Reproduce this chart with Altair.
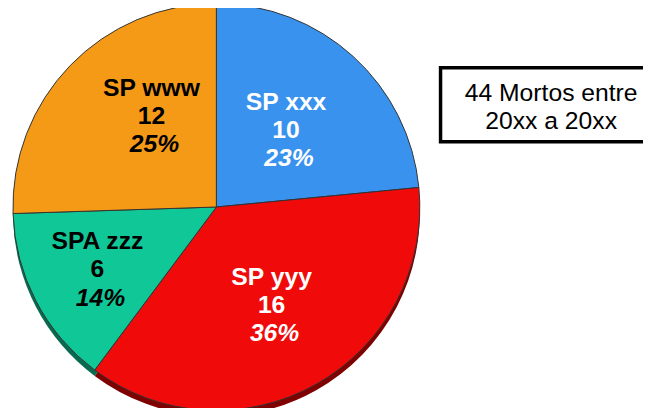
import altair as alt
import pandas as pd

# ---- data ----
categories = ["SP xxx", "SP yyy", "SPA zzz", "SP www"]
counts = [10, 16, 6, 12]
percents = [23, 36, 14, 25]
pct_labels = ["23%", "36%", "14%", "25%"]
box_lines = ["44 Mortos entre", "20xx a 20xx"]

df = pd.DataFrame({
    "cat": categories,
    "count": counts,
    "pct": percents,
    "pct_label": pct_labels,
    "order": list(range(len(categories))),
})
df["count_label"] = df["count"].astype(str)

# ---- styles ----
fill_colors = ["#3a92ef", "#f00a0a", "#10c897", "#f59a16"]
shadow_colors = ["#1f4f8c", "#7e0000", "#0a6a50", "#8a5508"]
FONT = "Liberation Sans"
CX, CY, R = 211, 199, 206
theta_scale = alt.Scale(domain=[0, sum(percents)])

# per-slice label placement (radius along the slice's mid-angle, plus nudge)
label_style = {
    "SP xxx": dict(radius=105, dx=0, dy=0, color="white"),
    "SP yyy": dict(radius=114, dx=0, dy=0, color="white"),
    "SPA zzz": dict(radius=137, dx=1, dy=0, color="black"),
    "SP www": dict(radius=111, dx=14, dy=-15, color="black"),
}

base = alt.Chart(df).encode(
    theta=alt.Theta("pct:Q", stack=True, scale=theta_scale),
    order=alt.Order("order:Q"),
)

shadow = base.mark_arc(radius=R, x=CX, y=CY + 6).encode(
    color=alt.Color("cat:N", scale=alt.Scale(domain=categories, range=shadow_colors), legend=None)
)

pie = base.mark_arc(radius=R, x=CX, y=CY, stroke="#333333", strokeWidth=1).encode(
    fill=alt.Fill("cat:N", scale=alt.Scale(domain=categories, range=fill_colors), legend=None)
)

text_base = alt.Chart(df).transform_window(
    cum="sum(pct)", sort=[alt.SortField("order")], frame=[None, 0]
).transform_calculate(mid="datum.cum - datum.pct / 2")

layers = [shadow, pie]
for cat, st in label_style.items():
    sub = text_base.transform_filter(alt.datum.cat == cat).encode(
        theta=alt.Theta("mid:Q", stack=None, scale=theta_scale)
    )
    common = dict(x=CX, y=CY, radius=st["radius"], font=FONT, fontSize=25,
                  fontWeight="bold", align="center", baseline="middle",
                  color=st["color"])
    layers.append(sub.mark_text(dx=st["dx"], dy=st["dy"] - 28.5, **common).encode(text="cat:N"))
    layers.append(sub.mark_text(dx=st["dx"], dy=st["dy"], **common).encode(text="count_label:N"))
    layers.append(sub.mark_text(dx=st["dx"] + 3, dy=st["dy"] + 28.5, fontStyle="italic", **common)
                  .encode(text="pct_label:N"))

box_df = pd.DataFrame({"line": box_lines, "i": list(range(len(box_lines)))})
box = alt.Chart(pd.DataFrame({"k": [0]})).mark_rect(
    fill="white", stroke="black", strokeWidth=3.5
).encode(x=alt.value(438), x2=alt.value(660), y=alt.value(58), y2=alt.value(133))

box_text1 = alt.Chart(box_df).transform_filter(alt.datum.i == 0).mark_text(
    font=FONT, fontSize=25, color="black", align="center", baseline="middle"
).encode(text="line:N", x=alt.value(550), y=alt.value(84))
box_text2 = alt.Chart(box_df).transform_filter(alt.datum.i == 1).mark_text(
    font=FONT, fontSize=25, color="black", align="center", baseline="middle"
).encode(text="line:N", x=alt.value(550), y=alt.value(112))

layers += [box, box_text1, box_text2]

chart = alt.layer(*layers).resolve_scale(color="independent", fill="independent").properties(
    width=643, height=400, padding=0,
    autosize=alt.AutoSizeParams(type="none"),
).configure_view(stroke=None)

chart.save("out.html", embed_options={"renderer": "svg", "actions": False})
